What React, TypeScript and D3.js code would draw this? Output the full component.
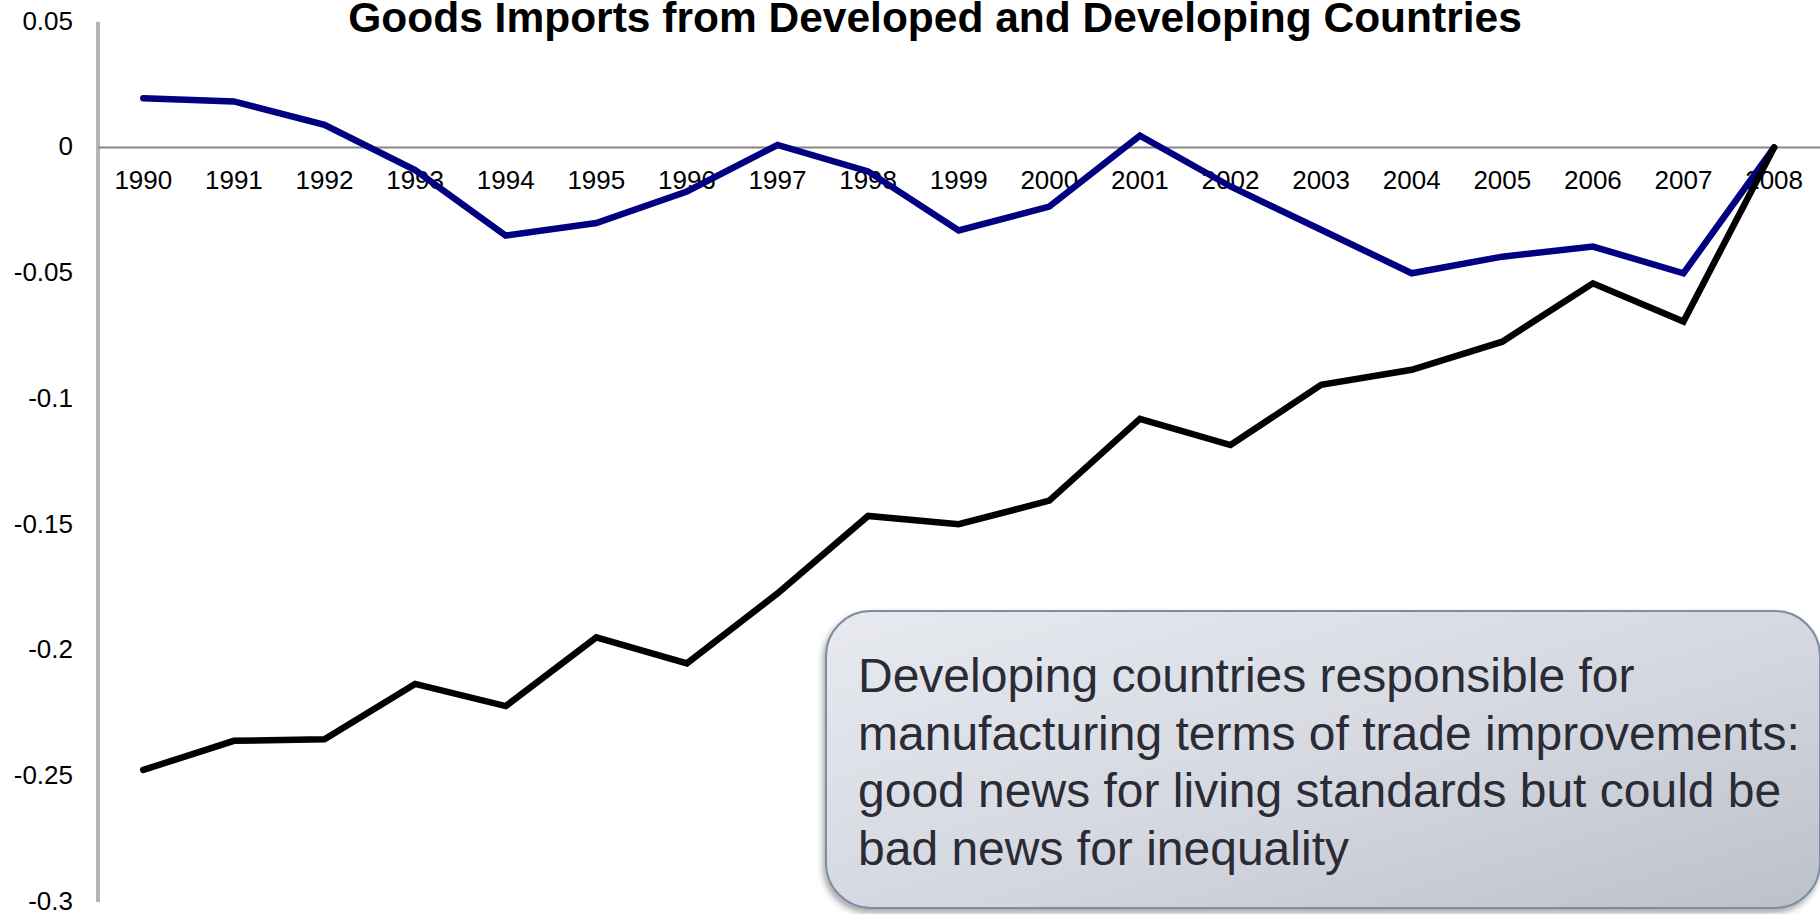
import React from "react";
import * as d3 from "d3";

const years = ["1990","1991","1992","1993","1994","1995","1996","1997","1998","1999","2000","2001","2002","2003","2004","2005","2006","2007","2008"];
const developed = [0.0196, 0.0183, 0.009, -0.009, -0.035, -0.030, -0.0175, 0.001, -0.0095, -0.033, -0.0235, 0.0047, -0.0155, -0.0327, -0.050, -0.0434, -0.0394, -0.050, 0];
const developing = [-0.2475, -0.2359, -0.2353, -0.2133, -0.2221, -0.1948, -0.2051, -0.1773, -0.1465, -0.1498, -0.1404, -0.1079, -0.1183, -0.0944, -0.0884, -0.0772, -0.054, -0.0692, 0];
const yTickLabels = ["0.05", "0", "-0.05", "-0.1", "-0.15", "-0.2", "-0.25", "-0.3"];
const title = "Goods Imports from Developed and Developing Countries";
const noteLines = [
  "Developing countries responsible for",
  "manufacturing terms of trade improvements:",
  "good news for living standards but could be",
  "bad news for inequality",
];

const W = 1820;
const H = 914;
const FONT = "'Liberation Sans', Arial, sans-serif";

export default function App() {
  const axisX = 98;
  const x = d3.scaleBand<string>().domain(years).range([axisX, axisX + 19 * 90.6]);
  const cx = (yr: string) => (x(yr) as number) + x.bandwidth() / 2;
  const y = d3.scaleLinear().domain([0.05, -0.3]).range([21.75, 902]);

  const line = d3
    .line<number>()
    .x((_, i) => cx(years[i]))
    .y((d) => y(d));

  return (
    <svg
      width={W}
      height={H}
      style={{ position: "absolute", left: 0, top: 0, background: "#fff" }}
      fontFamily={FONT}
    >
      <defs>
        <linearGradient id="boxGrad" x1="0" y1="0" x2="1" y2="1">
          <stop offset="0" stopColor="#e8eaf0" />
          <stop offset="0.55" stopColor="#d4d7df" />
          <stop offset="1" stopColor="#bcc0ca" />
        </linearGradient>
        <filter id="shadow" x="-5%" y="-5%" width="115%" height="120%">
          <feDropShadow dx="-2" dy="4" stdDeviation="3" floodColor="#000" floodOpacity="0.35" />
        </filter>
      </defs>

      {/* title */}
      <text x={935} y={32} textAnchor="middle" fontSize={42.5} fontWeight="bold" fill="#000">
        {title}
      </text>

      {/* y axis */}
      <line x1={axisX} x2={axisX} y1={y(0.05)} y2={y(-0.3)} stroke="#b4b4b4" strokeWidth={4} />
      {yTickLabels.map((t) => (
        <text key={t} x={73} y={y(Number(t))} dy="0.3em" textAnchor="end" fontSize={26} fill="#000">
          {t}
        </text>
      ))}

      {/* zero line */}
      <line x1={axisX} x2={W} y1={y(0)} y2={y(0)} stroke="#868686" strokeWidth={2} />

      {/* category labels */}
      {years.map((yr) => (
        <text key={yr} x={cx(yr)} y={189} textAnchor="middle" fontSize={26} fill="#000">
          {yr}
        </text>
      ))}

      {/* series */}
      <path d={line(developed) || ""} fill="none" stroke="#000080" strokeWidth={6.5} strokeLinejoin="miter" strokeLinecap="round" />
      <path d={line(developing) || ""} fill="none" stroke="#000000" strokeWidth={6.5} strokeLinejoin="miter" strokeLinecap="round" />

      {/* annotation box */}
      <rect x={826} y={611} width={994} height={297} rx={45} ry={45} fill="url(#boxGrad)" stroke="#7f8ca3" strokeWidth={2} filter="url(#shadow)" />
      {noteLines.map((l, i) => (
        <text key={i} x={858} y={692 + i * 57.5} fontSize={48} fill="#2b2b36">
          {l}
        </text>
      ))}
    </svg>
  );
}
